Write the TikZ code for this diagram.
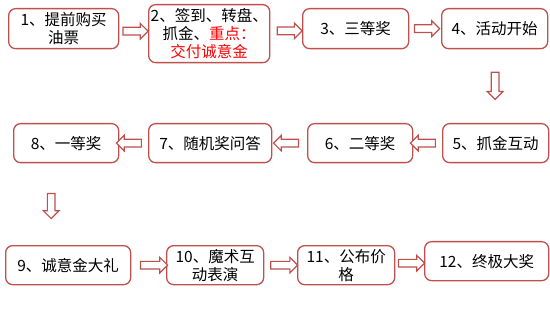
\documentclass[tikz,border=0pt]{standalone}
\usepackage{fontspec}
\setmainfont{Noto Sans CJK SC}
\usetikzlibrary{shapes.arrows,calc}
\definecolor{boxred}{HTML}{C0504D}
\definecolor{keyred}{HTML}{FF0000}
\begin{document}
\begin{tikzpicture}[x=1pt,y=-1pt,
 box/.style={draw=boxred,line width=1.3pt,rounded corners=7pt,anchor=north west,inner sep=2pt,align=center,font=\fontsize{15.5}{18}\selectfont,text=black},
 barrow/.style={single arrow,draw=boxred,fill=white,line width=1.2pt,minimum height=25pt,minimum width=15pt,single arrow head extend=4pt,inner sep=3.2pt}]
\useasboundingbox[fill=white] (0,0) rectangle (550,313);
% row 1
\node[box,minimum width=110pt,minimum height=40pt] (b1) at (8,8) {1、提前购买\\油票};
\node[box,minimum width=120pt,minimum height=58pt] (b2) at (148,4) {2、签到、转盘、\\抓金、\textcolor{keyred}{重点：}\\\textcolor{keyred}{交付诚意金}};
\node[box,minimum width=106pt,minimum height=40pt] (b3) at (302,8) {3、三等奖};
\node[box,minimum width=106pt,minimum height=40pt] (b4) at (441,8) {4、活动开始};
% row 2
\node[box,minimum width=106pt,minimum height=39pt] (b5) at (442,123) {5、抓金互动};
\node[box,minimum width=105pt,minimum height=39pt] (b6) at (307,123) {6、二等奖};
\node[box,minimum width=123pt,minimum height=39pt] (b7) at (148,123) {7、随机奖问答};
\node[box,minimum width=105pt,minimum height=39pt] (b8) at (13,123) {8、一等奖};
% row 3
\node[box,minimum width=125pt,minimum height=39pt] (b9) at (5,245) {9、诚意金大礼};
\node[box,minimum width=97pt,minimum height=39pt] (b10) at (166,245) {10、魔术互\\动表演};
\node[box,minimum width=97pt,minimum height=39pt] (b11) at (297,245) {11、公布价\\格};
\node[box,minimum width=124pt,minimum height=39pt] (b12) at (424,241) {12、终极大奖};
% arrows
\node[barrow] (a12) at ($(b1.east)!0.5!(b2.west)$) {};
\node[barrow] (a23) at ($(b2.east)!0.55!(b3.west)$) {};
\node[barrow] (a34) at ($(b3.east)!0.5!(b4.west)$) {};
\node[barrow,minimum height=27pt,shape border rotate=270] (a45) at ($(b4.south)!0.47!(b5.north)$) {};
\node[barrow,shape border rotate=180] (a56) at ($(b5.west)!0.6!(b6.east)$) {};
\node[barrow,shape border rotate=180] (a67) at ($(b6.west)!0.55!(b7.east)$) {};
\node[barrow,shape border rotate=180] (a78) at ($(b7.west)!0.6!(b8.east)$) {};
\node[barrow,minimum height=25pt,shape border rotate=270,xshift=-16pt] (a89) at ($(b8.south)!0.5!(b9.north)$) {};
\node[barrow,minimum height=27pt] (a910) at ($(b9.east)!0.6!(b10.west)$) {};
\node[barrow,minimum height=27pt] (a1011) at ($(b10.east)!0.55!(b11.west)$) {};
\node[barrow,minimum height=26pt] (a1112) at ($(b11.east)!0.5!(b12.west)$) {};
\end{tikzpicture}
\end{document}
